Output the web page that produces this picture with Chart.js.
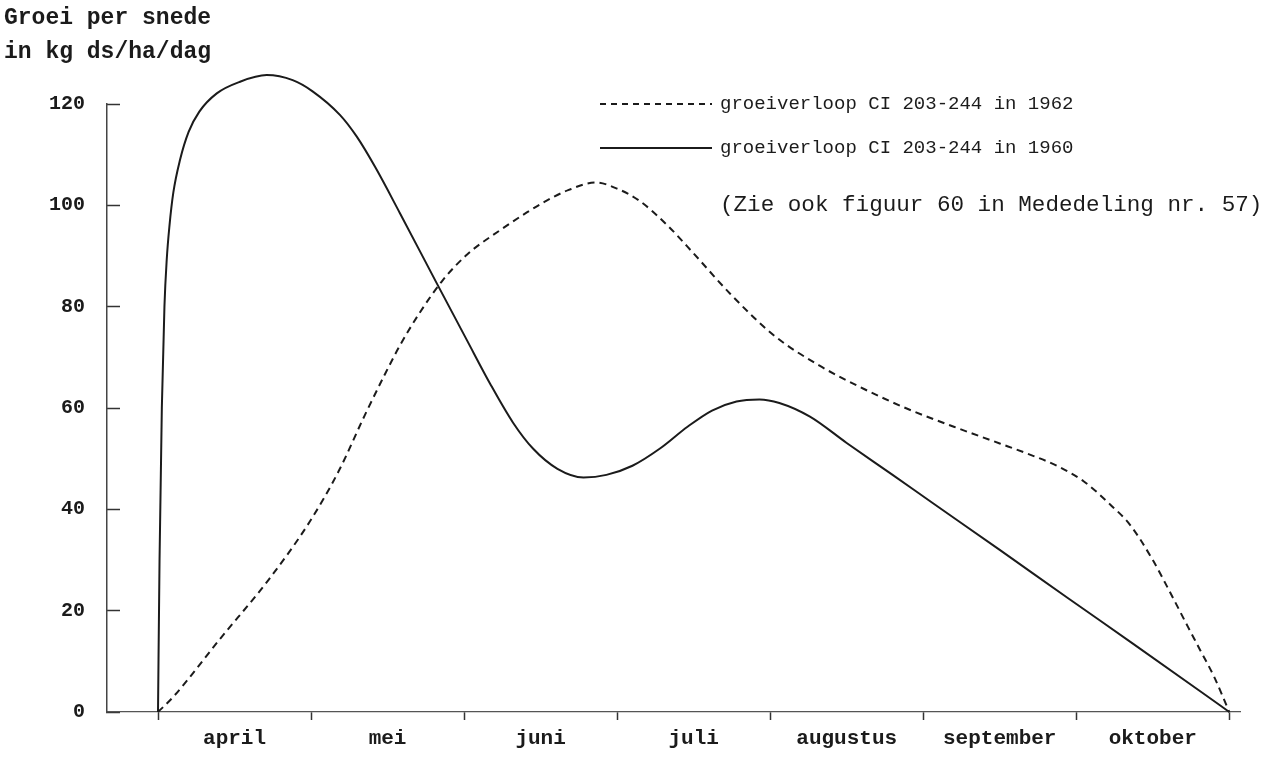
<!DOCTYPE html>
<html>
<head>
<meta charset="utf-8">
<script src="https://cdn.jsdelivr.net/npm/chart.js@4.4.1/dist/chart.umd.min.js"></script>
<style>
  html, body { margin: 0; padding: 0; background: #fff; }
  #wrap { width: 1277px; height: 759px; position: relative; }
</style>
</head>
<body>
<div id="wrap"><canvas id="c" width="1277" height="759"></canvas></div>
<script>
// Month names, placed in the middle of each month
const months = ['april', 'mei', 'juni', 'juli', 'augustus', 'september', 'oktober'];
// Month boundaries (months since 1 april) that get a tick mark
const monthEdges = [0, 1, 2, 3, 4, 5, 6, 7];
const yTicks = [0, 20, 40, 60, 80, 100, 120];

// groeiverloop 1962: x = months since 1 april, y = kg ds/ha/dag
const x1962 = [0, 0.1, 0.41, 0.72, 0.99, 1.18, 1.35, 1.48, 1.58, 1.71, 1.86, 2.02, 2.24, 2.41, 2.52, 2.68, 2.86, 3.0, 3.15, 3.33, 3.50, 3.74, 4.03, 4.32, 4.61, 4.90, 5.20, 5.50, 5.68, 5.88, 6.05, 6.22, 6.35, 6.50, 6.61, 6.73, 6.81, 6.90, 7.0];
const y1962 = [0, 3, 14.6, 26, 37.5, 47.5, 58.5, 66.5, 72.3, 78.8, 85.2, 90.3, 95.2, 98.6, 100.6, 103, 104.5, 103.3, 100.8, 96, 90.5, 82.5, 74.2, 68.4, 63.8, 59.8, 56.3, 53, 51, 48.5, 45.5, 41, 37, 30, 23.8, 16.8, 12.2, 7, 0];

// groeiverloop 1960
const x1960 = [0, 0.01, 0.025, 0.042, 0.057, 0.075, 0.1, 0.144, 0.2, 0.27, 0.384, 0.536, 0.71, 0.88, 1.01, 1.19, 1.30, 1.42, 1.58, 1.82, 2.02, 2.17, 2.32, 2.45, 2.61, 2.78, 2.93, 3.10, 3.28, 3.46, 3.62, 3.78, 3.93, 4.06, 4.26, 4.50, 4.80, 5.05, 5.50, 5.94, 6.37, 6.81, 7.0];
const y1960 = [0, 30, 60, 80, 89.3, 96, 102.5, 109, 114.5, 118.5, 122.1, 124.4, 125.7, 124.7, 122.5, 117.8, 113.5, 107.5, 98.5, 84.7, 73.3, 64.8, 57.1, 52, 48, 46.3, 46.8, 48.6, 52, 56.3, 59.5, 61.3, 61.7, 61, 58.3, 53.1, 46.8, 41.5, 32, 22.6, 13.5, 4.1, 0];

const seriesLabels = ['groeiverloop CI 203-244 in 1962', 'groeiverloop CI 203-244 in 1960'];
const noteText = '(Zie ook figuur 60 in Mededeling nr. 57)';
const titleLines = ['Groei per snede', 'in kg ds/ha/dag'];

const INK = '#1b1b1b';
const MONO = '"Liberation Mono", "DejaVu Sans Mono", monospace';

const toPoints = (xs, ys) => xs.map((x, i) => ({ x: x, y: ys[i] }));

// Axis title, legend and note drawn on top of the chart
const annotations = {
  id: 'annotations',
  afterDraw(chart) {
    const ctx = chart.ctx;
    ctx.save();
    ctx.fillStyle = INK;
    ctx.textBaseline = 'middle';
    ctx.textAlign = 'left';
    ctx.font = 'bold 23px ' + MONO;
    titleLines.forEach((t, i) => ctx.fillText(t, 4, 18 + i * 34));

    ctx.font = '19px ' + MONO;
    chart.data.datasets.forEach((ds, i) => {
      const y = 104 + i * 44;
      ctx.strokeStyle = ds.borderColor;
      ctx.lineWidth = ds.borderWidth;
      ctx.setLineDash(i === 0 ? [6, 5] : []);
      ctx.beginPath();
      ctx.moveTo(600, y);
      ctx.lineTo(712, y);
      ctx.stroke();
      ctx.fillText(ds.label, 720, y);
    });
    ctx.setLineDash([]);
    ctx.font = '22.6px ' + MONO;
    ctx.fillText(noteText, 720, 205);
    ctx.restore();
  }
};

new Chart(document.getElementById('c'), {
  type: 'line',
  data: {
    datasets: [
      {
        label: seriesLabels[0],
        data: toPoints(x1962, y1962),
        borderColor: INK,
        borderWidth: 2,
        borderDash: [7, 5],
        pointRadius: 0,
        cubicInterpolationMode: 'monotone',
        clip: false
      },
      {
        label: seriesLabels[1],
        data: toPoints(x1960, y1960),
        borderColor: INK,
        borderWidth: 2,
        pointRadius: 0,
        cubicInterpolationMode: 'monotone',
        clip: false
      }
    ]
  },
  options: {
    responsive: false,
    animation: false,
    devicePixelRatio: 1,
    layout: { padding: { top: 104, right: 37, left: 0, bottom: 0 } },
    plugins: { legend: { display: false }, tooltip: { enabled: false }, title: { display: false } },
    scales: {
      x: {
        type: 'linear',
        min: -0.3333,
        max: 7.07,
        afterBuildTicks(scale) {
          const vals = [];
          monthEdges.forEach(v => vals.push(v));
          months.forEach((m, i) => vals.push(i + 0.5));
          vals.sort((a, b) => a - b);
          scale.ticks = vals.map(v => ({ value: v }));
        },
        afterFit(scale) { scale.height = 46; },
        ticks: {
          autoSkip: false,
          maxRotation: 0,
          padding: 6,
          color: INK,
          font: { family: MONO, size: 21, weight: 'bold' },
          callback: (v) => Number.isInteger(v) ? '' : months[Math.floor(v)]
        },
        grid: {
          drawOnChartArea: false,
          drawTicks: true,
          tickLength: 8,
          tickWidth: 1.5,
          tickColor: (c) => (c.tick && Number.isInteger(c.tick.value)) ? '#333' : 'rgba(0,0,0,0)'
        },
        border: { display: true, color: '#555', width: 1.3 }
      },
      y: {
        type: 'linear',
        min: 0,
        max: 120,
        afterBuildTicks(scale) { scale.ticks = yTicks.map(v => ({ value: v })); },
        afterFit(scale) { scale.width = 107; },
        ticks: {
          padding: 35,
          color: INK,
          font: { family: MONO, size: 20, weight: 'bold' },
          callback: (v) => String(v)
        },
        grid: {
          drawOnChartArea: false,
          drawTicks: true,
          tickLength: -13,
          tickWidth: 1.5,
          tickColor: '#333'
        },
        border: { display: true, color: '#444', width: 1.5 }
      }
    }
  },
  plugins: [annotations]
});
</script>
</body>
</html>
